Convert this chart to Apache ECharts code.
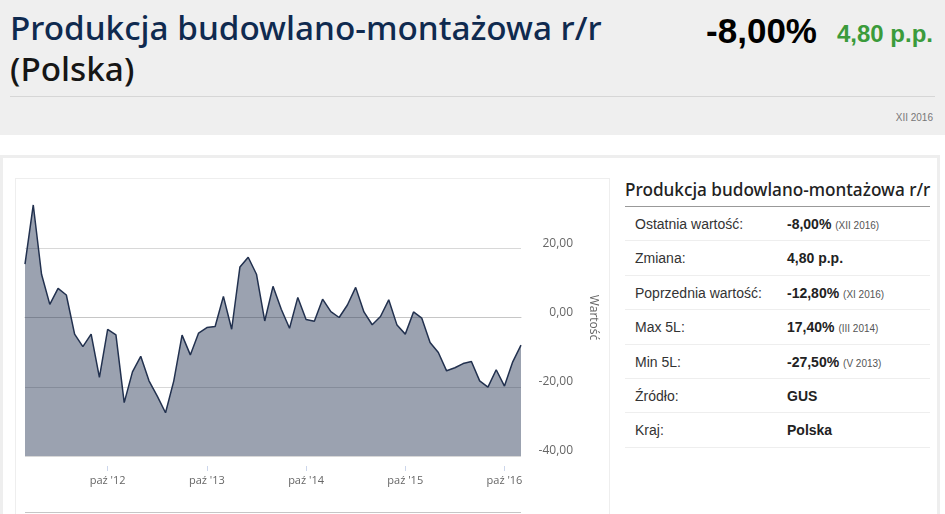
<!DOCTYPE html>
<html lang="pl">
<head>
<meta charset="UTF-8">
<title>Produkcja budowlano-montażowa r/r (Polska)</title>
<script src="https://cdn.jsdelivr.net/npm/echarts@6.0.0/dist/echarts.min.js"></script>
<style>
    body{margin:0;width:945px;height:514px;overflow:hidden;position:relative;background:#fff;font-family:"Liberation Sans",Arial,sans-serif;}
    #head{position:absolute;left:0;top:0;width:945px;height:135px;background:#efefef;}
    #title{position:absolute;left:10px;top:7px;margin:0;font-family:"Noto Sans";font-weight:500;font-size:33.3px;line-height:41px;color:#0f2a4f;white-space:nowrap;}
    #title span{color:#161616;}
    #val{position:absolute;right:128px;top:11px;font-weight:bold;font-size:35px;line-height:40px;color:#000;}
    #chg{position:absolute;right:12px;top:21px;font-weight:bold;font-size:24px;line-height:26px;color:#3b9b3b;}
    #hr{position:absolute;left:10px;top:96px;width:925px;height:1px;background:#d6d6d6;}
    #date{position:absolute;right:12px;top:112px;font-size:10px;color:#777;}
    #panel{position:absolute;left:0;top:155px;width:934px;height:400px;border:3px solid #eee;}
    #box{position:absolute;left:15px;top:178px;width:595px;height:350px;border:1px solid #eee;box-sizing:border-box;}
    #main{position:absolute;left:16px;top:179px;width:592px;height:335px;}
    #foot{position:absolute;left:25px;top:512px;width:496px;height:1px;background:#c6c6c6;}
    #side{position:absolute;left:625px;top:178px;width:305px;}
    #side h2{margin:0;height:28px;line-height:24px;font-family:"Noto Sans";font-weight:500;font-size:17.2px;color:#222;border-bottom:1px solid #999;white-space:nowrap;}
    .row{height:33.4px;line-height:34px;border-bottom:1px solid #eee;font-size:14px;color:#333;position:relative;}
    .row .l{position:absolute;left:10px;}
    .row .v{position:absolute;left:162px;font-weight:bold;color:#222;}
    .row .v small{font-weight:normal;font-size:10px;color:#555;}
</style>
</head>
<body>
<div id="head">
    <h1 id="title">Produkcja budowlano-montażowa r/r<br><span>(Polska)</span></h1>
    <div id="val">-8,00%</div>
    <div id="chg">4,80 p.p.</div>
    <div id="hr"></div>
    <div id="date">XII 2016</div>
</div>
<div id="panel"></div>
<div id="box"></div>
<div id="main"></div>
<div id="foot"></div>
<div id="side">
    <h2>Produkcja budowlano-montażowa r/r</h2>
    <div class="row"><span class="l">Ostatnia wartość:</span><span class="v">-8,00% <small>(XII 2016)</small></span></div>
    <div class="row"><span class="l">Zmiana:</span><span class="v">4,80 p.p.</span></div>
    <div class="row"><span class="l">Poprzednia wartość:</span><span class="v">-12,80% <small>(XI 2016)</small></span></div>
    <div class="row"><span class="l">Max 5L:</span><span class="v">17,40% <small>(III 2014)</small></span></div>
    <div class="row"><span class="l">Min 5L:</span><span class="v">-27,50% <small>(V 2013)</small></span></div>
    <div class="row"><span class="l">Źródło:</span><span class="v">GUS</span></div>
    <div class="row"><span class="l">Kraj:</span><span class="v">Polska</span></div>
</div>
<script>
    var months = [
        '2011-12',
        '2012-01','2012-02','2012-03','2012-04','2012-05','2012-06','2012-07','2012-08','2012-09','2012-10','2012-11','2012-12',
        '2013-01','2013-02','2013-03','2013-04','2013-05','2013-06','2013-07','2013-08','2013-09','2013-10','2013-11','2013-12',
        '2014-01','2014-02','2014-03','2014-04','2014-05','2014-06','2014-07','2014-08','2014-09','2014-10','2014-11','2014-12',
        '2015-01','2015-02','2015-03','2015-04','2015-05','2015-06','2015-07','2015-08','2015-09','2015-10','2015-11','2015-12',
        '2016-01','2016-02','2016-03','2016-04','2016-05','2016-06','2016-07','2016-08','2016-09','2016-10','2016-11','2016-12'
    ];
    // produkcja budowlano-montazowa r/r, %
    var values = [
        15.4,
        32.5, 12.5, 3.8, 8.4, 6.5, -4.8, -8.4, -4.8, -17.3, -3.4, -5.0, -24.6,
        -15.7, -11.2, -18.3, -22.7, -27.5, -18.3, -5.1, -10.8, -4.5, -2.9, -2.6, 6.1,
        -3.4, 14.6, 17.4, 12.5, -1.0, 9.0, 2.4, -3.1, 5.8, -0.6, -1.1, 5.3,
        1.7, 0.0, 3.6, 8.7, 1.6, -2.1, 0.3, 5.1, -2.2, -4.8, 1.6, -0.2,
        -7.2, -10.1, -15.4, -14.5, -13.3, -12.7, -18.3, -20.1, -15.1, -19.8, -12.8, -8.0
    ];
    var monthNames = ['sty','lut','mar','kwi','maj','cze','lip','sie','wrz','paź','lis','gru'];
    var labelMonth = '10';
    var yMin = -40, yMax = 40, yStep = 20;

    var myChart = echarts.init(document.getElementById('main'));
    var lineColor = '#22314f';
    var gridColor = '#d8d8d8';

    function isLabelMonth(idx, val){
        return val.slice(5) === labelMonth;
    }

    var option = {
        animation: false,
        grid: {left: 9, top: 0, width: 496, height: 277},
        xAxis: [
            {
                type: 'category',
                data: months,
                boundaryGap: false,
                axisLine: {lineStyle: {color: '#c6c6c6'}},
                axisTick: {show: false},
                axisLabel: {show: false},
                splitLine: {show: false}
            },
            {
                type: 'category',
                data: months,
                boundaryGap: false,
                position: 'bottom',
                offset: 10,
                axisLine: {show: false},
                axisTick: {show: true, length: 5, interval: isLabelMonth, lineStyle: {color: '#ccd6eb'}},
                axisLabel: {
                    interval: isLabelMonth,
                    margin: 9,
                    color: '#666',
                    fontSize: 11,
                    fontFamily: 'Open Sans',
                    formatter: function(val){
                        return monthNames[parseInt(val.slice(5), 10) - 1] + " '" + val.slice(2, 4);
                    }
                }
            }
        ],
        yAxis: {
            type: 'value',
            position: 'right',
            min: yMin,
            max: yMax,
            interval: yStep,
            name: 'Wartość',
            nameLocation: 'middle',
            nameRotate: -90,
            nameGap: 66,
            nameTextStyle: {color: '#666', fontSize: 12, fontFamily: 'Open Sans'},
            axisLine: {show: false},
            axisTick: {show: false},
            // no line at the top value
            splitLine: {lineStyle: {color: [gridColor, gridColor, gridColor, gridColor, 'rgba(0,0,0,0)']}},
            axisLabel: {
                align: 'right',
                verticalAlign: 'bottom',
                lineHeight: 10,
                margin: 52,
                color: '#666',
                fontSize: 12,
                fontFamily: 'Open Sans',
                formatter: function(v){
                    if (v === yMax) return '';
                    return v.toFixed(2).replace('.', ',');
                }
            }
        },
        series: [
            {
                name: 'Wartość',
                type: 'line',
                xAxisIndex: 0,
                data: values,
                symbol: 'none',
                lineStyle: {color: lineColor, width: 1.5},
                areaStyle: {color: lineColor, opacity: 0.45, origin: 'start'}
            }
        ]
    };
    myChart.setOption(option);
</script>
</body>
</html>
